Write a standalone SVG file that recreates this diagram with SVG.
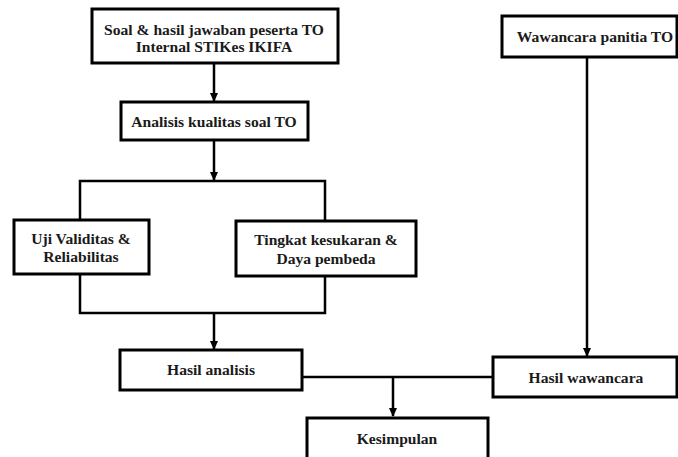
<svg xmlns="http://www.w3.org/2000/svg" width="678" height="457" viewBox="0 0 678 457">
<style>
.box{fill:#fff;stroke:#000;stroke-width:3}
.t{font-family:"Liberation Serif","Times New Roman",serif;font-weight:bold;font-size:15.6px;text-anchor:middle;fill:#1a1a1a}
.c{fill:none;stroke:#000;stroke-width:2.5}
</style>
<defs>
<marker id="ah" markerWidth="10" markerHeight="10" refX="8" refY="5" orient="auto" markerUnits="userSpaceOnUse">
<path d="M0,1 L9,5 L0,9 Z" fill="#000"/>
</marker>
</defs>
<g id="connectors">
<path class="c" d="M214,64 V101" marker-end="url(#ah)"/>
<path class="c" d="M214,141 V180" marker-end="url(#ah)"/>
<path class="c" d="M80,220 V181 H325 V221"/>
<path class="c" d="M80,275 V313 H325 V276"/>
<path class="c" d="M214,313 V349" marker-end="url(#ah)"/>
<path class="c" d="M587,57 V356" marker-end="url(#ah)"/>
<path class="c" d="M303,377 H493"/>
<path class="c" d="M393,377 V416" marker-end="url(#ah)"/>
</g>
<g id="n1">
<rect class="box" x="92" y="9" width="246" height="54"/>
<text class="t" x="214" y="35">Soal &amp; hasil jawaban peserta TO</text>
<text class="t" x="214" y="52">Internal STIKes IKIFA</text>
</g>
<g id="n2">
<rect class="box" x="121" y="102" width="187" height="38"/>
<text class="t" x="214" y="127">Analisis kualitas soal TO</text>
</g>
<g id="n3">
<rect class="box" x="14" y="220" width="135" height="54"/>
<text class="t" x="81" y="244">Uji Validitas &amp;</text>
<text class="t" x="81" y="262">Reliabilitas</text>
</g>
<g id="n4">
<rect class="box" x="236" y="221" width="180" height="55"/>
<text class="t" x="326" y="245">Tingkat kesukaran &amp;</text>
<text class="t" x="326" y="264">Daya pembeda</text>
</g>
<g id="n5">
<rect class="box" x="120" y="350" width="182" height="40"/>
<text class="t" x="211" y="375">Hasil analisis</text>
</g>
<g id="n6">
<rect class="box" x="502" y="16" width="175" height="41"/>
<text class="t" x="595" y="42">Wawancara panitia TO</text>
</g>
<g id="n7">
<rect class="box" x="493" y="357" width="184" height="40"/>
<text class="t" x="586" y="383">Hasil wawancara</text>
</g>
<g id="n8">
<rect class="box" x="307" y="418" width="181" height="50"/>
<text class="t" x="397" y="444">Kesimpulan</text>
</g>
</svg>
